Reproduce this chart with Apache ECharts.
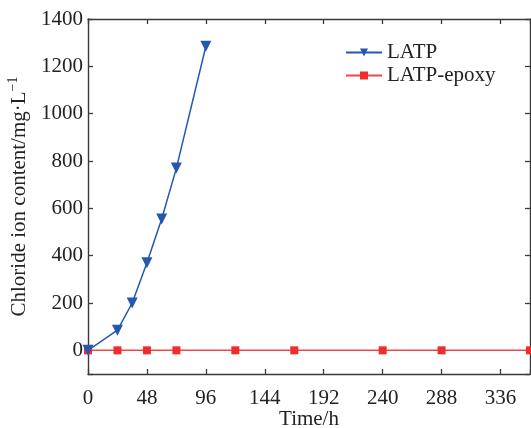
<!DOCTYPE html>
<html>
<head>
<meta charset="utf-8">
<script src="https://cdn.jsdelivr.net/npm/echarts@6/dist/echarts.min.js"></script>
<style>
  html, body { margin: 0; padding: 0; background: #ffffff; }
  #chart { width: 531px; height: 428px; }
</style>
</head>
<body>
<div id="chart"></div>
<script>
// 数据
const latpTime = [0, 24, 36, 48, 60, 72, 96];
const latpValues = [0, 85, 200, 370, 555, 770, 1285];
const epoxyTime = [0, 24, 48, 72, 120, 168, 240, 288, 360];
const epoxyValues = [0, 0, 0, 0, 0, 0, 0, 0, 0];
const xTicks = [0, 48, 96, 144, 192, 240, 288, 336];
const yTicks = [0, 200, 400, 600, 800, 1000, 1200, 1400];

const fontFamily = '"Liberation Serif", "DejaVu Serif", serif';
const fontSize = 21;
const axisColor = '#3a3a3a';
const textColor = '#222222';
const blue = '#2457b0';
const red = '#ee2e2e';

const myChart = echarts.init(document.getElementById('chart'), null, {renderer: 'canvas'});

// 每个轴单独生成样式
const makeTick = () => ({show: true, inside: true, length: 5, lineStyle: {color: axisColor, width: 1.3}});
const makeLine = () => ({show: true, onZero: false, lineStyle: {color: axisColor, width: 1.4}});

const option = {
  animation: false,
  backgroundColor: '#ffffff',
  textStyle: {fontFamily: fontFamily},
  grid: {left: 88, right: 1, top: 19, bottom: 54, containLabel: false, outerBoundsMode: 'none'},
  legend: {
    orient: 'vertical',
    left: 345,
    top: 42,
    padding: 0,
    itemGap: 2,
    itemWidth: 36,
    itemHeight: 10,
    textStyle: {fontFamily: fontFamily, fontSize: fontSize, color: textColor},
    data: ['LATP', 'LATP-epoxy']
  },
  xAxis: [
    {
      type: 'value',
      position: 'bottom',
      min: 0,
      max: 360,
      interval: 48,
      name: 'Time/h',
      nameLocation: 'middle',
      nameGap: 35,
      nameMoveOverlap: false,
      nameTextStyle: {fontFamily: fontFamily, fontSize: fontSize, color: textColor},
      axisLine: makeLine(),
      axisTick: makeTick(),
      splitLine: {show: false},
      axisLabel: {
        show: true, margin: 14,
        fontFamily: fontFamily, fontSize: fontSize, color: textColor,
        customValues: xTicks,
        formatter: (v) => String(v)
      }
    },
    {
      type: 'value',
      position: 'top',
      min: 0,
      max: 360,
      interval: 48,
      axisLine: makeLine(),
      axisTick: makeTick(),
      splitLine: {show: false},
      axisLabel: {show: false}
    }
  ],
  yAxis: [
    {
      type: 'value',
      position: 'left',
      min: -100,
      max: 1400,
      splitNumber: 7,
      name: 'Chloride ion content/mg·L{sup|−1}',
      nameLocation: 'middle',
      nameGap: 56,
      nameTextStyle: {
        fontFamily: fontFamily, fontSize: fontSize, color: textColor,
        rich: {sup: {fontFamily: fontFamily, fontSize: 14, color: textColor, verticalAlign: 'top', padding: [0, 0, 12, 0]}}
      },
      axisLine: makeLine(),
      axisTick: makeTick(),
      splitLine: {show: false},
      axisLabel: {
        show: true, margin: 5,
        fontFamily: fontFamily, fontSize: fontSize, color: textColor,
        customValues: yTicks,
        formatter: (v) => String(v)
      }
    },
    {
      type: 'value',
      position: 'right',
      min: -100,
      max: 1400,
      splitNumber: 7,
      axisLine: makeLine(),
      axisTick: makeTick(),
      splitLine: {show: false},
      axisLabel: {show: false}
    }
  ],
  series: [
    {
      name: 'LATP-epoxy',
      type: 'line',
      data: epoxyTime.map((t, i) => [t, epoxyValues[i]]),
      symbol: 'rect',
      symbolSize: 8,
      lineStyle: {color: '#f04848', width: 1.5},
      itemStyle: {color: red},
      z: 2
    },
    {
      name: 'LATP',
      type: 'line',
      data: latpTime.map((t, i) => [t, latpValues[i]]),
      symbol: 'triangle',
      symbolRotate: 180,
      symbolSize: 11,
      lineStyle: {color: blue, width: 1.5},
      itemStyle: {color: blue},
      z: 3
    }
  ]
};

myChart.setOption(option);
</script>
</body>
</html>
